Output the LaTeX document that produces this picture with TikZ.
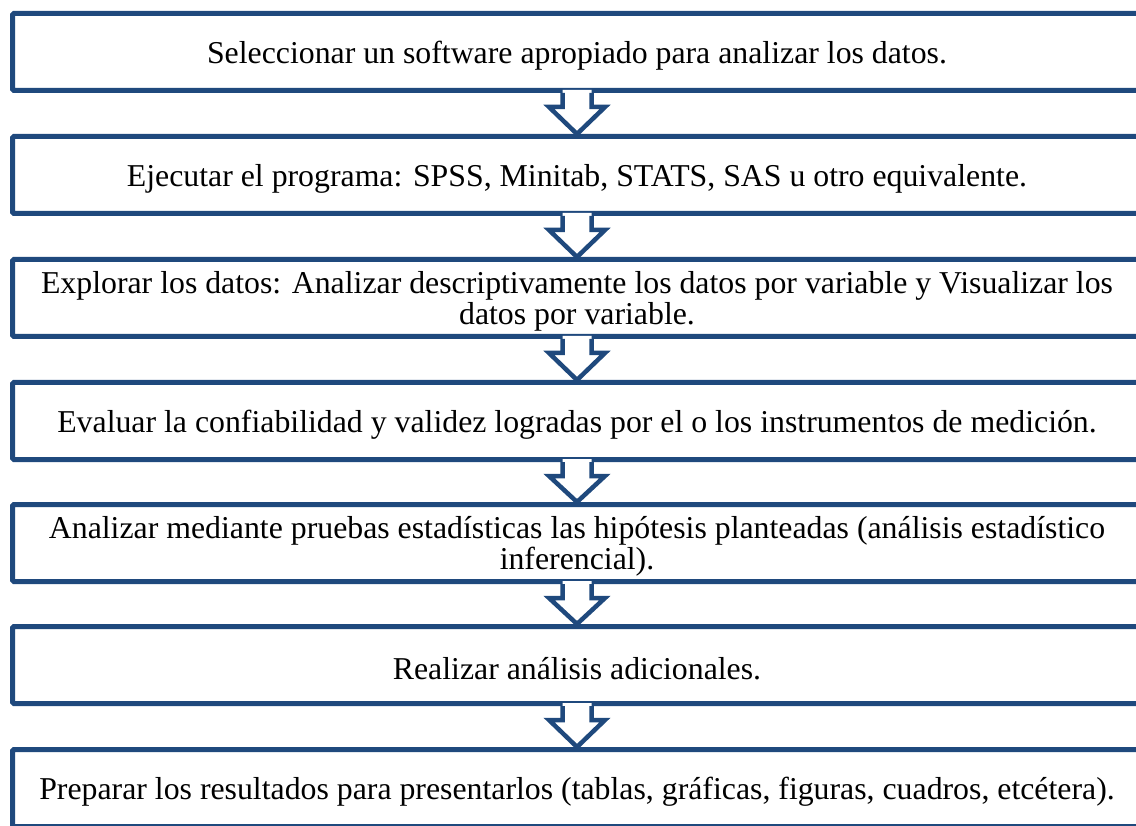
\documentclass[tikz,border=0pt]{standalone}
\usepackage{fontspec}
\setmainfont{Liberation Serif}
\usetikzlibrary{calc}
\definecolor{boxblue}{RGB}{31,73,125}
\tikzset{
  stepbox/.style={draw=boxblue, line width=5pt, fill=white, rounded corners=1.5pt,
    minimum width=1129pt, minimum height=77pt, inner sep=0pt},
  steptext/.style={align=center, inner sep=0pt,
    font=\fontsize{31.8}{31}\selectfont, text=black},
  arrowline/.style={draw=boxblue, line width=4.5pt, line join=miter},
}
\newcommand\flowarrow[2]{%
  \fill[white] ($(#1.south)+(-14.5,-3)$) -- ($(#1.south)+(-14.5,14)$) -- ($(#1.south)+(-28,14)$) --
     (#2.north) -- ($(#1.south)+(28,14)$) -- ($(#1.south)+(14.5,14)$) -- ($(#1.south)+(14.5,-3)$) -- cycle;
  \draw[arrowline] ($(#1.south)+(-14.5,0)$) -- ($(#1.south)+(-14.5,14)$) -- ($(#1.south)+(-28,14)$) --
     (#2.north) -- ($(#1.south)+(28,14)$) -- ($(#1.south)+(14.5,14)$) -- ($(#1.south)+(14.5,0)$);
}
\begin{document}
\begin{tikzpicture}[x=1pt,y=-1pt]
\useasboundingbox (0,0) rectangle (1136,826);
\clip (0,0) rectangle (1136,826);
\node[stepbox] (b1) at (577,52) {};
\node[stepbox] (b2) at (577,175) {};
\node[stepbox] (b3) at (577,298) {};
\node[stepbox] (b4) at (577,421) {};
\node[stepbox] (b5) at (577,543) {};
\node[stepbox] (b6) at (577,665) {};
\node[stepbox] (b7) at (577,788) {};
\node[steptext] (t1) at ($(b1.center)+(0,4)$) {Seleccionar un software apropiado para analizar los datos.};
\node[steptext] (t2) at ($(b2.center)+(0,4)$) {Ejecutar el programa: SPSS, Minitab, STATS, SAS u otro equivalente.};
\node[steptext] (t3) at ($(b3.center)+(0,3)$) {Explorar los datos: Analizar descriptivamente los datos por variable y Visualizar los\\datos por variable.};
\node[steptext] (t4) at ($(b4.center)+(0,4)$) {Evaluar la confiabilidad y validez logradas por el o los instrumentos de medición.};
\node[steptext] (t5) at ($(b5.center)+(0,3)$) {Analizar mediante pruebas estadísticas las hipótesis planteadas (análisis estadístico\\inferencial).};
\node[steptext] (t6) at ($(b6.center)+(0,4)$) {Realizar análisis adicionales.};
\node[steptext] (t7) at ($(b7.center)+(0,4)$) {Preparar los resultados para presentarlos (tablas, gráficas, figuras, cuadros, etcétera).};
\flowarrow{b1}{b2}
\flowarrow{b2}{b3}
\flowarrow{b3}{b4}
\flowarrow{b4}{b5}
\flowarrow{b5}{b6}
\flowarrow{b6}{b7}
\end{tikzpicture}
\end{document}
